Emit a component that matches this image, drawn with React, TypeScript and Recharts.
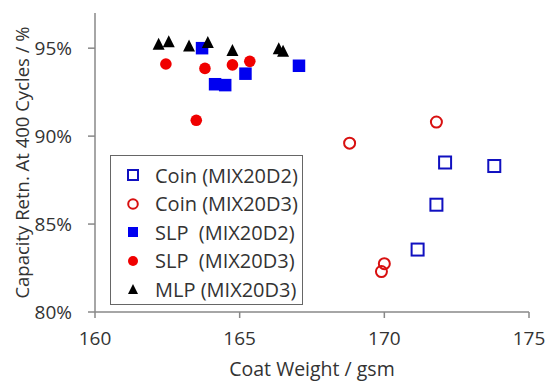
import { ScatterChart, Scatter, XAxis, YAxis, Legend, Label } from "recharts";

const xTicks = [160, 165, 170, 175];
const yTicks = [80, 85, 90, 95];

const coinD2Weight = [172.1, 173.8, 171.8, 171.15];
const coinD2Retention = [88.5, 88.3, 86.1, 83.55];
const coinD3Weight = [171.8, 168.8, 170.0, 169.9];
const coinD3Retention = [90.8, 89.6, 82.75, 82.3];
const slpD2Weight = [163.7, 164.15, 164.5, 165.2, 167.05];
const slpD2Retention = [95.0, 92.95, 92.9, 93.55, 94.0];
const slpD3Weight = [162.45, 163.8, 164.75, 165.35, 163.5];
const slpD3Retention = [94.1, 93.85, 94.05, 94.25, 90.9];
const mlpD3Weight = [162.2, 162.55, 163.25, 163.9, 164.75, 166.35, 166.5];
const mlpD3Retention = [95.25, 95.4, 95.15, 95.35, 94.9, 95.0, 94.85];

const seriesNames = ["Coin (MIX20D2)", "Coin (MIX20D3)", "SLP  (MIX20D2)", "SLP  (MIX20D3)", "MLP (MIX20D3)"];

const toPoints = (xs: number[], ys: number[]) => xs.map((x, i) => ({ x, y: ys[i] }));

const BLUE = "#0000f0";
const RED = "#f00000";
const FONT = "'Open Sans', sans-serif";
const TEXT = "#333";

const OpenSquare = ({ cx, cy }: any) => (
  <rect x={cx - 6} y={cy - 6} width={12} height={12} fill="none" stroke="#1010c0" strokeWidth={2} />
);
const OpenCircle = ({ cx, cy }: any) => (
  <circle cx={cx} cy={cy} r={5.5} fill="none" stroke="#d81010" strokeWidth={2} />
);
const FilledSquare = ({ cx, cy }: any) => (
  <rect x={cx - 6.25} y={cy - 6.25} width={12.5} height={12.5} fill={BLUE} />
);
const FilledCircle = ({ cx, cy }: any) => <circle cx={cx} cy={cy} r={5.8} fill={RED} />;
const Triangle = ({ cx, cy }: any) => (
  <polygon points={`${cx},${cy - 6} ${cx + 6},${cy + 6} ${cx - 6},${cy + 6}`} fill="#000" />
);

const legendIcons = [
  <rect x={3} y={3} width={10} height={10} fill="none" stroke="#1010c0" strokeWidth={2} />,
  <circle cx={8} cy={8} r={4.8} fill="none" stroke="#d81010" strokeWidth={2} />,
  <rect x={3} y={3} width={10} height={10} fill={BLUE} />,
  <circle cx={8} cy={8} r={5} fill={RED} />,
  <polygon points="8,3 13,13 3,13" fill="#000" />,
];

const LegendBox = () => (
  <div
    style={{
      boxSizing: "border-box",
      width: 193,
      height: 150,
      border: "1.5px solid #666",
      background: "#fff",
      paddingTop: 5,
      fontFamily: FONT,
      fontSize: 20,
      color: TEXT,
    }}
  >
    {seriesNames.map((name, i) => (
      <div key={name} style={{ display: "flex", alignItems: "center", height: 28.5 }}>
        <svg width={16} height={16} style={{ marginLeft: 14, flex: "none" }}>
          {legendIcons[i]}
        </svg>
        <span style={{ marginLeft: 14, whiteSpace: "pre" }}>{name}</span>
      </div>
    ))}
  </div>
);

export default function App() {
  return (
    <div style={{ position: "absolute", left: 0, top: 0, width: 550, height: 381, background: "#fff" }}>
      <ScatterChart width={550} height={381} margin={{ top: 13, right: 21, bottom: 0, left: 0 }}>
        <XAxis
          type="number"
          dataKey="x"
          domain={[160, 175]}
          ticks={xTicks}
          height={69}
          tickSize={6}
          tickMargin={14}
          axisLine={{ stroke: "#888", strokeWidth: 1.5 }}
          tickLine={{ stroke: "#888", strokeWidth: 1.5 }}
          tick={{ fill: TEXT, fontSize: 19, fontFamily: FONT }}
        >
          <Label
            value="Coat Weight / gsm"
            position="insideBottom"
            offset={5}
            style={{ fill: TEXT, fontSize: 19.5, fontFamily: FONT }}
          />
        </XAxis>
        <YAxis
          type="number"
          dataKey="y"
          domain={[80, 97]}
          ticks={yTicks}
          width={95}
          tickSize={7}
          tickMargin={16}
          tickFormatter={(v: number) => `${v}%`}
          axisLine={{ stroke: "#888", strokeWidth: 1.5 }}
          tickLine={{ stroke: "#888", strokeWidth: 1.5 }}
          tick={{ fill: TEXT, fontSize: 19, fontFamily: FONT }}
        >
          <Label
            value="Capacity Retn. At 400 Cycles / %"
            angle={-90}
            position="insideLeft"
            offset={22}
            style={{ fill: TEXT, fontSize: 18.5, fontFamily: FONT, textAnchor: "middle" }}
          />
        </YAxis>
        <Legend
          layout="vertical"
          align="center"
          verticalAlign="middle"
          wrapperStyle={{ left: 110, top: 155, width: 193, height: 150 }}
          content={() => <LegendBox />}
        />
        <Scatter name={seriesNames[0]} data={toPoints(coinD2Weight, coinD2Retention)} shape={OpenSquare} isAnimationActive={false} />
        <Scatter name={seriesNames[1]} data={toPoints(coinD3Weight, coinD3Retention)} shape={OpenCircle} isAnimationActive={false} />
        <Scatter name={seriesNames[2]} data={toPoints(slpD2Weight, slpD2Retention)} shape={FilledSquare} isAnimationActive={false} />
        <Scatter name={seriesNames[3]} data={toPoints(slpD3Weight, slpD3Retention)} shape={FilledCircle} isAnimationActive={false} />
        <Scatter name={seriesNames[4]} data={toPoints(mlpD3Weight, mlpD3Retention)} shape={Triangle} isAnimationActive={false} />
      </ScatterChart>
    </div>
  );
}
